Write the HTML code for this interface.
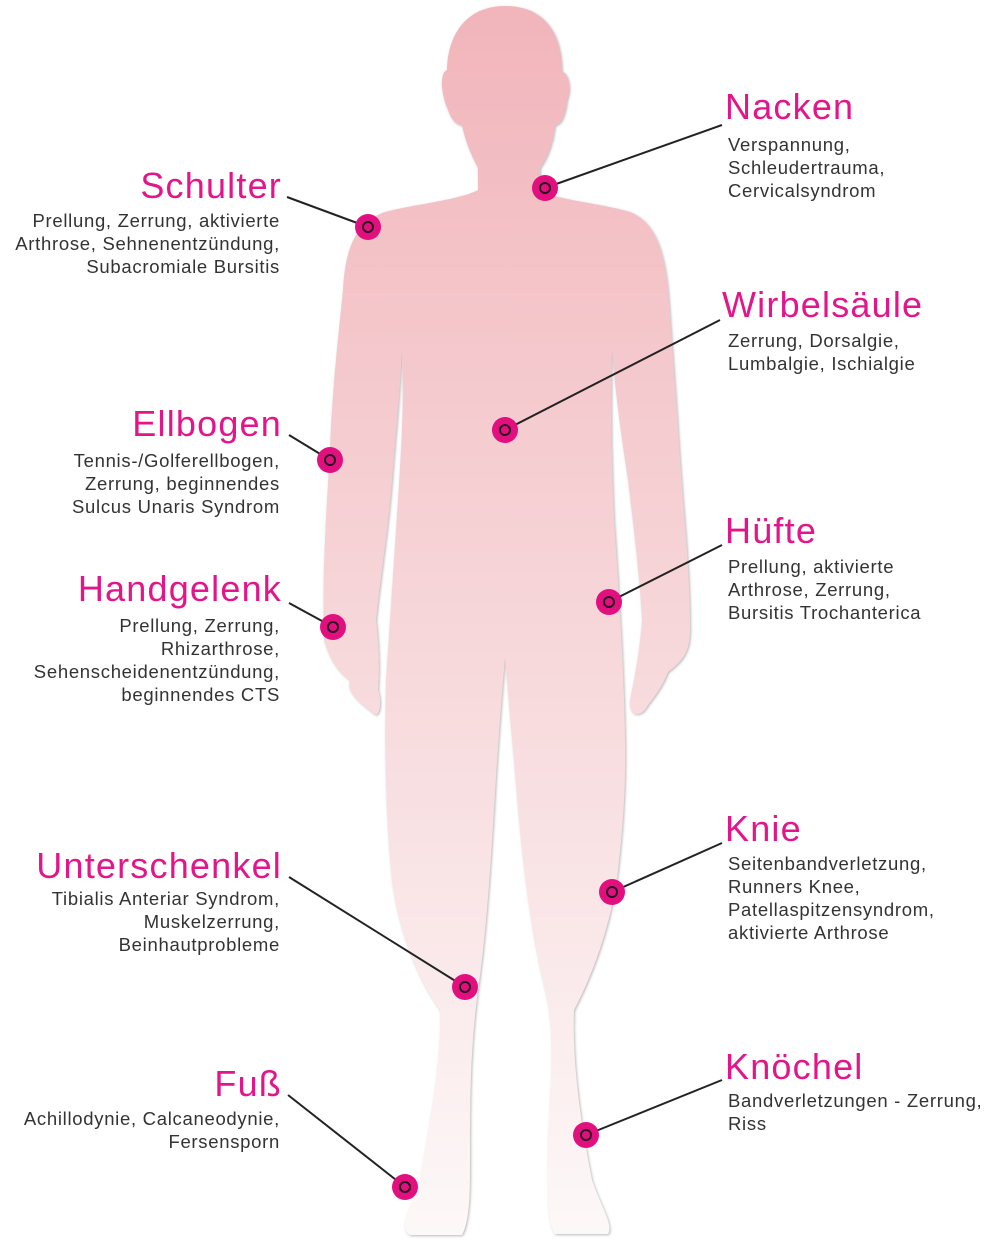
<!DOCTYPE html>
<html><head><meta charset="utf-8"><style>
html,body{margin:0;padding:0;background:#fff;}
body{width:999px;height:1241px;position:relative;overflow:hidden;font-family:"Liberation Sans",sans-serif;}
.t{position:absolute;color:#e2168a;font-size:36px;line-height:36px;white-space:nowrap;letter-spacing:1.2px;}
.d{position:absolute;color:#333;font-size:18.5px;line-height:23px;white-space:nowrap;letter-spacing:0.7px;}
.r{text-align:right;}
svg{position:absolute;left:0;top:0;}
</style></head><body>
<svg width="999" height="1241" viewBox="0 0 999 1241">
<defs>
<linearGradient id="g" x1="0" y1="0" x2="0" y2="1">
<stop offset="0" stop-color="#f1b5bb"/>
<stop offset="0.45" stop-color="#f6d3d6"/>
<stop offset="1" stop-color="#fdf8f8"/>
</linearGradient>
<filter id="s"><feDropShadow dx="1" dy="1" stdDeviation="1.2" flood-color="#888" flood-opacity="0.6"/></filter>
</defs>
<path filter="url(#s)" fill="url(#g)" d="
M505,6 C470,6 448,30 447,70 C440,72 440,92 448,110 C452,122 458,125 462,125
C466,145 474,160 478,168 L478,190 C460,200 410,205 385,212 C355,222 345,250 343,290
C338,340 332,390 330,450 C326,520 322,570 324,640 C330,660 338,672 350,680
C346,690 356,700 372,712 C380,722 382,700 378,690 C380,660 378,640 376,620
C380,580 388,530 392,480 C396,430 400,390 402,350 C404,400 402,440 398,500
C394,560 390,620 386,680 C384,760 386,820 392,880 C398,930 418,980 440,1010
C442,1060 430,1120 420,1180 C410,1210 398,1228 410,1235 L462,1235
C470,1220 470,1190 470,1160 C470,1100 470,1050 478,990 C488,920 492,840 497,760
C500,720 502,690 505,658 C508,690 510,720 514,760 C520,840 528,920 545,990
C558,1040 548,1100 548,1160 C548,1200 548,1225 555,1234 L608,1234
C614,1225 600,1205 592,1180 C580,1120 572,1060 574,1010 C595,970 612,920 618,870
C626,800 626,760 624,700 C622,640 618,580 614,520 C612,470 610,420 612,350
C616,400 622,440 628,480 C634,530 640,580 642,620 C640,650 634,680 630,700
C628,715 640,720 648,705 C660,690 665,680 668,672 C684,660 690,650 690,630
C690,570 684,520 680,460 C676,400 672,340 668,290 C664,250 655,222 630,212
C600,203 555,200 540,190 L540,168 C546,160 553,145 555,125 C560,125 565,118 567,100
C572,88 568,72 562,72 C562,30 542,6 505,6 Z"/>
<g stroke="#222" stroke-width="2" fill="none">
<line x1="545" y1="188" x2="722" y2="125"/>
<line x1="287" y1="197" x2="368" y2="227"/>
<line x1="505" y1="430" x2="720" y2="320"/>
<line x1="289" y1="435" x2="330" y2="460"/>
<line x1="289" y1="603" x2="333" y2="627"/>
<line x1="609" y1="602" x2="722" y2="545"/>
<line x1="612" y1="892" x2="722" y2="843"/>
<line x1="289" y1="877" x2="465" y2="987"/>
<line x1="586" y1="1135" x2="722" y2="1080"/>
<line x1="288" y1="1095" x2="405" y2="1187"/>
</g>
<g>
<g transform="translate(545,188)"><circle r="13" fill="#e2107f"/><circle r="5" fill="none" stroke="#2a1020" stroke-width="2"/></g>
<g transform="translate(368,227)"><circle r="13" fill="#e2107f"/><circle r="5" fill="none" stroke="#2a1020" stroke-width="2"/></g>
<g transform="translate(505,430)"><circle r="13" fill="#e2107f"/><circle r="5" fill="none" stroke="#2a1020" stroke-width="2"/></g>
<g transform="translate(330,460)"><circle r="13" fill="#e2107f"/><circle r="5" fill="none" stroke="#2a1020" stroke-width="2"/></g>
<g transform="translate(333,627)"><circle r="13" fill="#e2107f"/><circle r="5" fill="none" stroke="#2a1020" stroke-width="2"/></g>
<g transform="translate(609,602)"><circle r="13" fill="#e2107f"/><circle r="5" fill="none" stroke="#2a1020" stroke-width="2"/></g>
<g transform="translate(612,892)"><circle r="13" fill="#e2107f"/><circle r="5" fill="none" stroke="#2a1020" stroke-width="2"/></g>
<g transform="translate(465,987)"><circle r="13" fill="#e2107f"/><circle r="5" fill="none" stroke="#2a1020" stroke-width="2"/></g>
<g transform="translate(586,1135)"><circle r="13" fill="#e2107f"/><circle r="5" fill="none" stroke="#2a1020" stroke-width="2"/></g>
<g transform="translate(405,1187)"><circle r="13" fill="#e2107f"/><circle r="5" fill="none" stroke="#2a1020" stroke-width="2"/></g>
</g>
</svg>

<div class="t" style="left:725px;top:89px;">Nacken</div>
<div class="d" style="left:728px;top:133px;">Verspannung,<br>Schleudertrauma,<br>Cervicalsyndrom</div>

<div class="t r" style="right:717px;top:168px;">Schulter</div>
<div class="d r" style="right:719px;top:209px;">Prellung, Zerrung, aktivierte<br>Arthrose, Sehnenentzündung,<br>Subacromiale Bursitis</div>

<div class="t" style="left:722px;top:287px;">Wirbelsäule</div>
<div class="d" style="left:728px;top:329px;">Zerrung, Dorsalgie,<br>Lumbalgie, Ischialgie</div>

<div class="t r" style="right:717px;top:406px;">Ellbogen</div>
<div class="d r" style="right:719px;top:449px;">Tennis-/Golferellbogen,<br>Zerrung, beginnendes<br>Sulcus Unaris Syndrom</div>

<div class="t" style="left:725px;top:513px;">Hüfte</div>
<div class="d" style="left:728px;top:555px;">Prellung, aktivierte<br>Arthrose, Zerrung,<br>Bursitis Trochanterica</div>

<div class="t r" style="right:717px;top:571px;">Handgelenk</div>
<div class="d r" style="right:719px;top:614px;">Prellung, Zerrung,<br>Rhizarthrose,<br>Sehenscheidenentzündung,<br>beginnendes CTS</div>

<div class="t" style="left:725px;top:811px;">Knie</div>
<div class="d" style="left:728px;top:852px;">Seitenbandverletzung,<br>Runners Knee,<br>Patellaspitzensyndrom,<br>aktivierte Arthrose</div>

<div class="t r" style="right:717px;top:848px;">Unterschenkel</div>
<div class="d r" style="right:719px;top:887px;">Tibialis Anteriar Syndrom,<br>Muskelzerrung,<br>Beinhautprobleme</div>

<div class="t" style="left:725px;top:1049px;">Knöchel</div>
<div class="d" style="left:728px;top:1089px;">Bandverletzungen - Zerrung,<br>Riss</div>

<div class="t r" style="right:717px;top:1066px;">Fuß</div>
<div class="d r" style="right:719px;top:1107px;">Achillodynie, Calcaneodynie,<br>Fersensporn</div>
</body></html>
